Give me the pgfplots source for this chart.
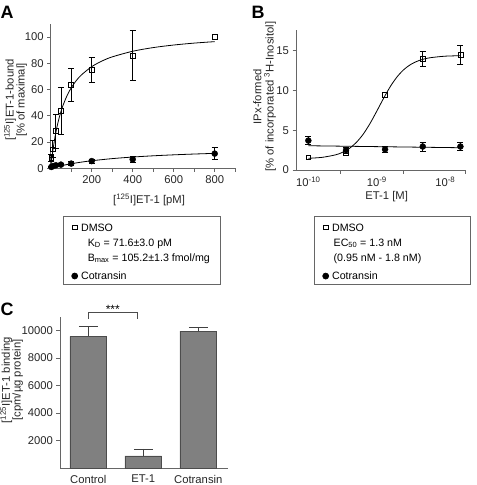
\documentclass[border=0pt]{standalone}
\usepackage{pgfplots}
\pgfplotsset{compat=1.18}
\usepackage{fontspec}
\setmainfont{Liberation Sans}
\newcommand{\tf}{\fontsize{11.3}{11}\selectfont}
\newcommand{\lf}{\fontsize{10.7}{12}\selectfont}
\pgfplotsset{
  base/.style={
    scale only axis, axis lines*=left,
    axis line style={black!60, line width=0.7bp},
    tick style={black!60, line width=0.7bp},
    major tick length=3.5bp, minor tick length=3.5bp, tick align=outside,
    tick label style={font=\tf, text=black!85},
    label style={font=\tf, text=black!85},
    /pgf/number format/assume math mode=true,
    /pgf/number format/1000 sep={},
    scaled ticks=false, clip=false,
    legend image code/.code={\path (0bp,0bp) (12bp,0bp); \draw[##1] plot coordinates {(8bp,0bp)};},
  },
  leg/.style={
    legend style={at={#1}, anchor=north west, draw=black!60, line width=0.7bp, font=\lf,
      inner xsep=3bp, inner ysep=2bp, row sep=0bp,
      nodes={inner sep=2bp, text height=8bp, text depth=3bp}, cells={anchor=west}},
  },
  sq/.style={mark=square, mark size=2.4bp, mark options={draw=black, fill=white, line width=0.6bp, solid}},
  ci/.style={mark=*, mark size=3bp, mark options={draw=black, fill=black, solid}},
  eb/.style={error bars/y dir=both, error bars/y explicit,
    error bars/error bar style={black, line width=0.7bp},
    error bars/error mark options={rotate=90, mark size=3bp, line width=0.7bp, black}},
}
\begin{document}
\begin{tikzpicture}
\path[use as bounding box] (0,0) rectangle (477bp,-485bp);
\node[anchor=base west, inner sep=0, font=\bfseries\fontsize{18}{20}\selectfont] at (0.5bp,-18.3bp) {A};
\node[anchor=base west, inner sep=0, font=\bfseries\fontsize{18}{20}\selectfont] at (251.5bp,-18.3bp) {B};
\node[anchor=base west, inner sep=0, font=\bfseries\fontsize{18}{20}\selectfont] at (0.5bp,-315bp) {C};

% ---------------- Panel A
\begin{axis}[base, width=184.5bp, height=144.3bp, at={(50.7bp,-168.3bp)}, anchor=south west,
  xmin=0, xmax=900, ymin=0, ymax=110,
  xtick={200,400,600,800}, minor xtick={100,300,500,700,900},
  ytick={0,20,40,60,80,100},
  xlabel={[\textsuperscript{125}I]ET-1 [pM]},
  xlabel style={at={(axis description cs:0.533,-0.22)}, anchor=center},
  ylabel={[\textsuperscript{125}I]ET-1-bound\\{[}\% of maximal]},
  ylabel style={at={(axis description cs:-0.191,0.473)}, anchor=center, align=center},
  leg={(axis description cs:0.0667,-0.3306)}]
\addplot[black, line width=0.8bp, smooth, forget plot] coordinates {
(3,4.23) (5,6.87) (10,12.89) (20,22.97) (30,31.06) (40,37.71) (50,43.26) (60,47.96)
(80,55.51) (100,61.31) (125,66.89) (150,71.21) (200,77.47) (250,81.78) (300,84.93)
(400,89.23) (500,92.02) (600,93.98) (700,95.44) (800,96.56)};
\addplot[black, line width=0.8bp, smooth, forget plot] coordinates {
(3,0.13) (10,0.43) (25,1.03) (50,1.93) (100,3.47) (150,4.72) (200,5.76) (300,7.38)
(400,8.59) (500,9.53) (600,10.27) (700,10.88) (800,11.39)};
\addplot[forget plot, only marks, sq, eb] table[x=x, y=y, y error=e] {
x y e
3.1 8 3
10 14.5 6.5
25 28.5 13
50 44 18
100 63.5 12.5
200 75 9.5
400 86 19
};
\addplot[forget plot, only marks, sq] table[x=x, y=y] {
x y
800 100
};
\addplot[forget plot, only marks, ci, eb] table[x=x, y=y, y error=e] {
x y e
3.1 1.0 0.5
10 1.7 0.6
25 2.3 0.6
50 2.8 0.8
100 3.6 1.5
200 5.5 1.5
400 6.8 2
800 11.2 4.7
};
\addlegendimage{sq}
\addlegendentry[text height=10.7bp]{\makebox[134bp][l]{DMSO}}
\addlegendimage{empty legend}
\addlegendentry{\hspace{6.7bp}K\textsubscript{D} = 71.6±3.0 pM}
\addlegendimage{empty legend}
\addlegendentry[text depth=6.8bp]{\hspace{6.7bp}B\textsubscript{max} = 105.2±1.3 fmol/mg}
\addlegendimage{ci}
\addlegendentry[text depth=0.3bp]{Cotransin}
\end{axis}

% ---------------- Panel B
\begin{axis}[base, width=169.9bp, height=140bp, at={(296bp,-170bp)}, anchor=south west,
  xmin=-10.18, xmax=-7.70, ymin=0, ymax=17.6,
  xtick={-10,-9,-8}, xticklabels={10\textsuperscript{-10},10\textsuperscript{-9},10\textsuperscript{-8}},
  major x tick style={draw=none}, minor xtick={-9.53,-8.62,-7.705},
  ytick={0,5,10,15},
  xlabel={ET-1 [M]},
  xlabel style={at={(axis description cs:0.534,-0.19)}, anchor=center},
  ylabel={IPx-formed\\{[}\% of incorporated \textsuperscript{3}H-Inositol]},
  ylabel style={at={(axis description cs:-0.185,0.524)}, anchor=center, align=center, font=\fontsize{11.3}{12.4}\selectfont},
  leg={(axis description cs:0.106,-0.329)}]
\addplot[black, line width=0.8bp, smooth, forget plot] coordinates {
(-10,1.47) (-9.8,1.59) (-9.6,1.91) (-9.5,2.23) (-9.4,2.72) (-9.3,3.46) (-9.2,4.49)
(-9.1,5.84) (-9.0,7.41) (-8.9,9.04) (-8.8,10.54) (-8.7,11.76) (-8.6,12.67) (-8.5,13.30)
(-8.4,13.71) (-8.3,13.98) (-8.2,14.14) (-8.0,14.31) (-7.78,14.37)};
\addplot[black, line width=0.8bp, forget plot] coordinates {(-10,3.05) (-7.78,2.8)};
\addplot[forget plot, only marks, ci, eb] table[x=x, y=y, y error=e] {
x y e
-10 3.7 0.52
-9.45 2.5 0.35
-8.88 2.6 0.4
-8.33 2.95 0.55
-7.78 2.95 0.5
};
\addplot[forget plot, only marks, sq] table[x=x, y=y] {
x y
-10 1.6
-9.45 2.2
-8.88 9.5
};
\addplot[forget plot, only marks, sq, eb] table[x=x, y=y, y error=e] {
x y e
-8.33 14.0 0.95
-7.78 14.5 1.2
};
\addlegendimage{sq}
\addlegendentry[text height=10.7bp]{\makebox[133bp][l]{DMSO}}
\addlegendimage{empty legend}
\addlegendentry{\hspace{1.6bp}EC\textsubscript{50} = 1.3 nM}
\addlegendimage{empty legend}
\addlegendentry[text depth=6.8bp]{\hspace{1.6bp}(0.95 nM - 1.8 nM)}
\addlegendimage{ci}
\addlegendentry[text depth=0.3bp]{Cotransin}
\end{axis}

% ---------------- Panel C
\begin{axis}[base, width=168bp, height=151.5bp, at={(60bp,-468.2bp)}, anchor=south west,
  xmin=-0.515, xmax=2.54, ymin=0, ymax=11000,
  xtick={0,1,2}, xticklabels={Control,ET-1,Cotransin}, major x tick style={draw=none},
  ytick={2000,4000,6000,8000,10000},
  ylabel={[\textsuperscript{125}I]ET-1 binding\\{[}cpm/µg protein]},
  ylabel style={at={(axis description cs:-0.2875,0.582)}, anchor=center, align=center}]
\addplot[ybar, bar width=0.667, fill=black!50, draw=black!70, line width=0.6bp,
  error bars/.cd, y dir=plus, y explicit,
  error bar style={black!75, line width=0.7bp},
  error mark options={rotate=90, mark size=9.5bp, black!75, line width=0.7bp}]
  table[x=x, y=y, y error=e] {
x y e
0 9564 726
1 887 509
2 9956 262
};
\draw[black!70, line width=0.6bp] (axis cs:0,10830) -- (axis cs:0,11340) -- (axis cs:0.89,11340) -- (axis cs:0.89,10830);
\node[anchor=base, inner sep=0, font=\fontsize{12}{12}\selectfont] at (axis cs:0.445,11215) {***};
\end{axis}
\end{tikzpicture}
\end{document}
